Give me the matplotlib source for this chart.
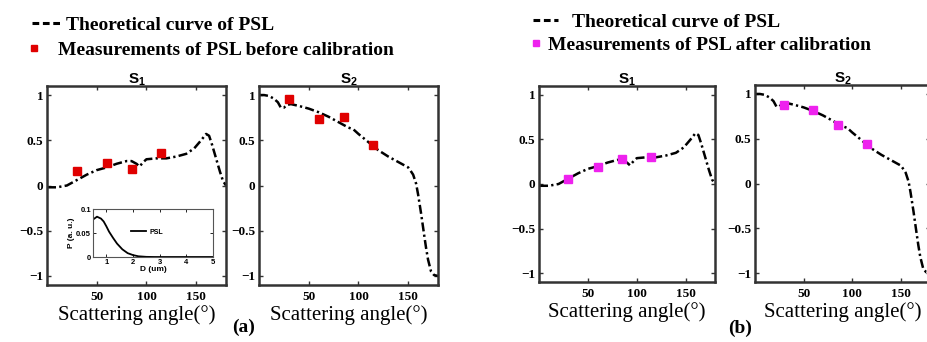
import numpy as np
import matplotlib.pyplot as plt
from matplotlib.lines import Line2D

plt.rcParams['font.family'] = 'Liberation Serif'
plt.rcParams['mathtext.fontset'] = 'custom'
plt.rcParams['mathtext.bf'] = 'Liberation Sans:bold'
plt.rcParams['mathtext.rm'] = 'Liberation Sans'

# theoretical curves
ang_s1 = [0, 10, 20, 25, 30, 40, 50, 60, 70, 80, 85, 90, 93, 97, 100, 110, 120,
          130, 140, 148, 155, 160, 163, 166, 170, 174, 177, 180]
s1_theory = [-0.02, -0.02, 0.0, 0.03, 0.06, 0.12, 0.17, 0.20, 0.24, 0.27, 0.27,
             0.24, 0.21, 0.26, 0.29, 0.30, 0.30, 0.32, 0.35, 0.41, 0.50, 0.57,
             0.55, 0.45, 0.30, 0.15, 0.05, 0.0]
ang_s2 = [0, 5, 10, 15, 19, 22, 25, 28, 32, 40, 50, 60, 70, 80, 90, 95, 100, 110,
          120, 130, 140, 150, 152, 155, 158, 160, 163, 166, 168, 170, 173, 176, 180]
s2_theory = [1.0, 1.0, 0.99, 0.96, 0.92, 0.86, 0.86, 0.89, 0.90, 0.88, 0.85, 0.81,
             0.76, 0.70, 0.64, 0.62, 0.57, 0.48, 0.39, 0.32, 0.26, 0.20, 0.17,
             0.12, 0.02, -0.10, -0.31, -0.54, -0.69, -0.82, -0.95, -0.99, -1.0]

# measurements
meas_ang = [30, 60, 85, 115]
s1_before = [0.16, 0.25, 0.18, 0.36]
s2_before = [0.96, 0.73, 0.76, 0.45]
s1_after = [0.06, 0.19, 0.28, 0.30]
s2_after = [0.88, 0.82, 0.65, 0.44]

# size distribution (inset)
d_um = [0.55, 0.65, 0.8, 0.9, 1.0, 1.1, 1.25, 1.4, 1.6, 1.8, 2.0, 2.2, 2.5, 2.8, 5.0]
p_psl = [0.080, 0.084, 0.080, 0.074, 0.064, 0.053, 0.040, 0.028, 0.016, 0.008,
         0.004, 0.0015, 0.0003, 0.0, 0.0]

xticks = [50, 100, 150]
yticks = [-1, -0.5, 0, 0.5, 1]
ytick_labels = ['\u22121', '\u22120.5', '0', '0.5', '1']

W, H = 927, 342
fig = plt.figure(figsize=(W / 100, H / 100), dpi=100)

red = '#e00000'
mag = '#ee22ee'
curve_ls = (0, (3.6, 1.3, 0.9, 1.3))


def px_axes(l, t, r, b):
    return fig.add_axes([l / W, 1 - b / H, (r - l) / W, (b - t) / H])


def style(ax, title):
    ax.set_xlim(0, 180)
    ax.set_ylim(-1.1, 1.1)
    ax.set_xticks(xticks)
    ax.set_yticks(yticks)
    ax.set_yticklabels(ytick_labels)
    ax.tick_params(direction='in', top=True, right=True, length=3, width=1,
                   labelsize=9.5, color='#333333')
    ax.tick_params(axis='x', pad=4)
    ax.tick_params(axis='y', pad=2.5)
    for lab in ax.get_xticklabels() + ax.get_yticklabels():
        lab.set_fontweight('bold')
    for sp in ax.spines.values():
        sp.set_linewidth(1.8)
        sp.set_color('#333333')
    ax.set_title(title, fontsize=11, pad=2)
    ax.set_xlabel('Scattering angle(\u00b0)', fontsize=15, labelpad=2)


panels = [
    ((47, 86, 226, 285), ang_s1, s1_theory, s1_before, red, r'$\mathbf{S_1}$'),
    ((259, 86, 438, 285), ang_s2, s2_theory, s2_before, red, r'$\mathbf{S_2}$'),
    ((539, 86, 715, 282), ang_s1, s1_theory, s1_after, mag, r'$\mathbf{S_1}$'),
    ((755, 85, 930, 282), ang_s2, s2_theory, s2_after, mag, r'$\mathbf{S_2}$'),
]
axes = []
for box, xa, ya, meas, col, title in panels:
    ax = px_axes(*box)
    ax.plot(xa, ya, color='k', lw=1.8, ls=curve_ls, zorder=2)
    ax.plot(meas_ang, meas, 's', color=col, ms=5.5, mec=col, zorder=3)
    style(ax, title)
    axes.append(ax)

# inset with size distribution
ins = px_axes(93, 209, 213, 257)
ins.plot(d_um, p_psl, color='k', lw=1.3, label='PSL')
ins.set_xlim(0.5, 5)
ins.set_ylim(0, 0.1)
ins.set_xticks([1, 2, 3, 4, 5])
ins.set_yticks([0, 0.05, 0.1])
ins.set_yticklabels(['0', '0.05', '0.1'])
ins.tick_params(direction='in', top=True, right=True, length=2, width=0.6,
                labelsize=5.5, pad=1.5)
for lab in ins.get_xticklabels() + ins.get_yticklabels():
    lab.set_fontfamily('Liberation Sans')
    lab.set_fontweight('bold')
for sp in ins.spines.values():
    sp.set_linewidth(0.8)
    sp.set_color('#555555')
ins.set_xlabel('D (um)', fontsize=6, labelpad=0, fontfamily='Liberation Sans',
               fontweight='bold')
ins.set_ylabel('P (a. u.)', fontsize=6, labelpad=1, fontfamily='Liberation Sans',
               fontweight='bold')
ins.legend(loc='center', bbox_to_anchor=(0.45, 0.52), frameon=False,
           handlelength=2.2, handletextpad=0.4,
           prop={'family': 'Liberation Sans', 'weight': 'bold', 'size': 5})


def legend_row(handle, label, x, y, hl, pad):
    fig.legend([handle], [label], loc='center left',
               bbox_to_anchor=(x / W, 1 - y / H), frameon=False, borderpad=0,
               borderaxespad=0, handlelength=hl, handletextpad=pad,
               prop={'weight': 'bold', 'size': 14})


line_h = Line2D([], [], color='k', lw=2.2, ls=(0, (2.2, 1.2)))
red_h = Line2D([], [], ls='none', marker='s', color=red, ms=5)
mag_h = Line2D([], [], ls='none', marker='s', color=mag, ms=5)

legend_row(line_h, 'Theoretical curve of PSL', 32, 25, 1.45, 0.28)
legend_row(red_h, 'Measurements of PSL before calibration', 30, 50, 0.4, 1.05)
legend_row(line_h, 'Theoretical curve of PSL', 533, 22, 1.3, 0.72)
legend_row(mag_h, 'Measurements of PSL after calibration', 532, 45, 0.4, 0.42)

fig.text(244 / W, 1 - 327 / H, '(a)', fontsize=14, fontweight='bold',
         ha='center', va='center')
fig.text(740 / W, 1 - 328 / H, '(b)', fontsize=14, fontweight='bold',
         ha='center', va='center')

fig.savefig('out.png', dpi=100)
